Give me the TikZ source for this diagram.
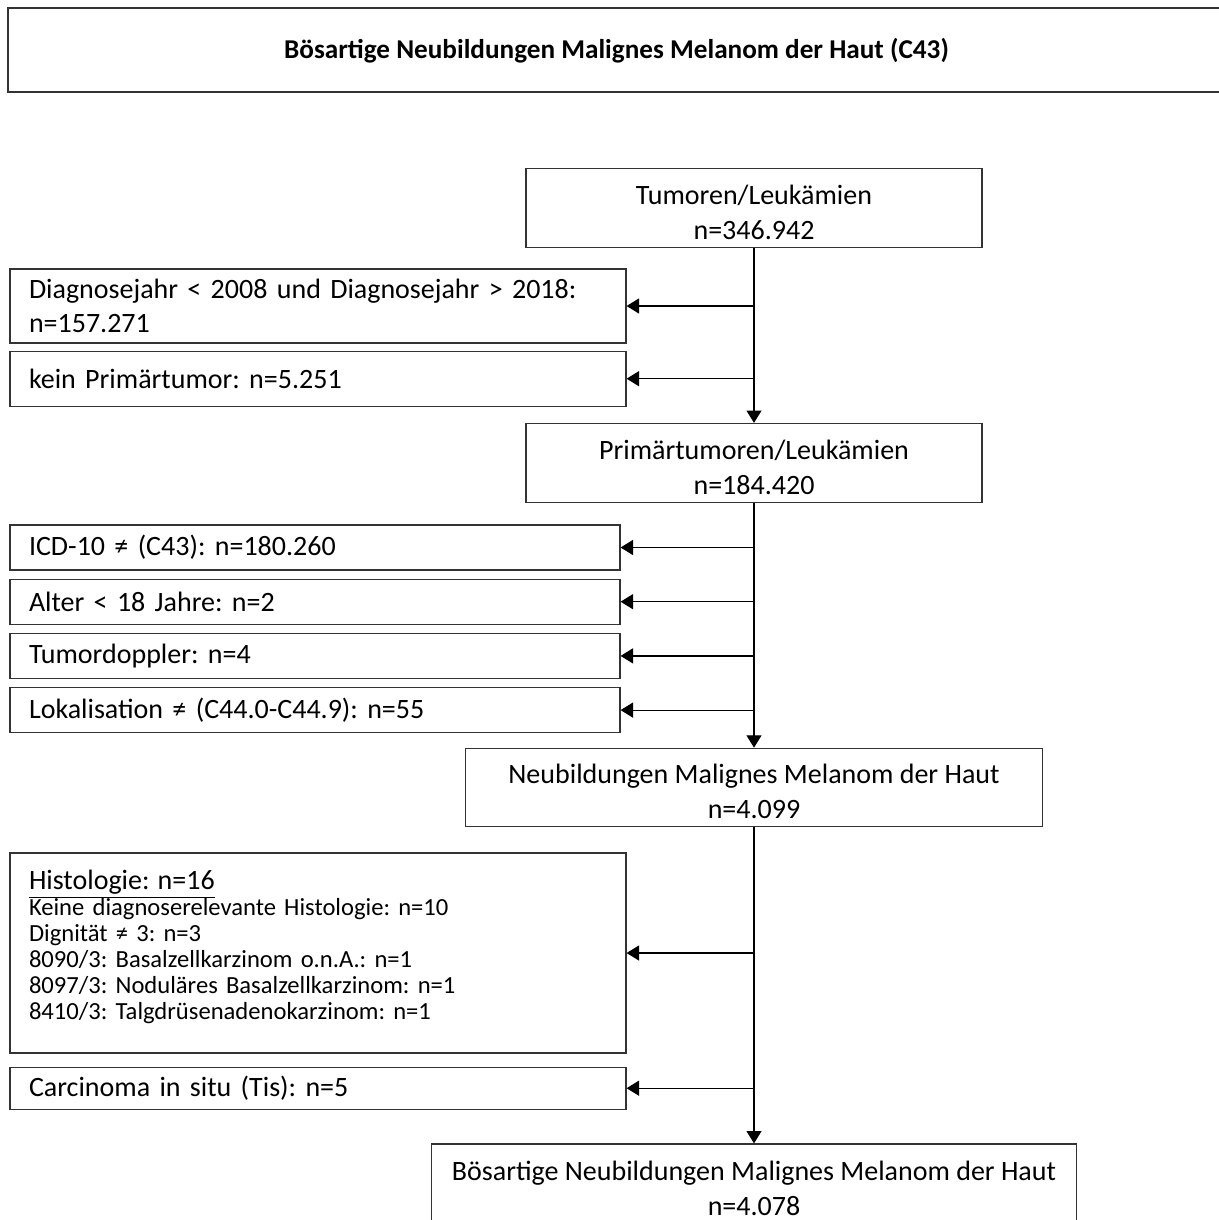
\documentclass[tikz,border=0pt]{standalone}
\usepackage{fontspec}
\setmainfont{Carlito}
\usetikzlibrary{arrows.meta,positioning}
\newcommand{\topgap}[1]{\rule{0pt}{#1}}

\begin{document}
\frenchspacing
\begin{tikzpicture}[
  x=0.5pt, y=-0.5pt,
  font=\fontsize{14pt}{17.5pt}\selectfont,
  box/.style={draw=black!80, line width=0.6pt, align=center, minimum height=39.5pt, inner sep=0pt},
  excl/.style={draw=black!80, line width=0.6pt, align=left, text width=289pt, inner xsep=9.5pt, inner ysep=0pt},
  arrow/.style={-{Triangle[length=6.2pt,width=7.5pt]}, line width=0.6pt}
]
\useasboundingbox (0,0) rectangle (1219,1220);
\node[box, minimum width=608.5pt, minimum height=42pt, font=\fontsize{13.6pt}{18pt}\selectfont\bfseries] (title) at (616.5,50) {\topgap{11pt}Bösartige Neubildungen Malignes Melanom der Haut (C43)};
\node[box, minimum width=228pt] (tum) at (754,208.3) {\topgap{14pt}Tumoren/Leukämien\\n=346.942};
\node[excl, minimum height=37pt, font=\fontsize{14pt}{17pt}\selectfont] (dia) at (318,306) {Diagnosejahr < 2008 und Diagnosejahr > 2018:\\n=157.271};
\node[excl, minimum height=27.5pt, below=3.5pt of dia] (kein) {kein Primärtumor: n=5.251};
\node[box, minimum width=228pt] (prim) at (754,463) {\topgap{14pt}Primärtumoren/Leukämien\\n=184.420};
\node[excl, text width=286pt, minimum height=22.5pt] (icd) at (315,547.5) {ICD-10 ≠ (C43): n=180.260};
\node[excl, text width=286pt, minimum height=22.5pt, below=4pt of icd] (alter) {Alter < 18 Jahre: n=2};
\node[excl, text width=286pt, minimum height=22.5pt, below=4pt of alter] (doppler) {Tumordoppler: n=4};
\node[excl, text width=286pt, minimum height=22.5pt, below=4pt of doppler] (lok) {Lokalisation ≠ (C44.0-C44.9): n=55};
\node[box, minimum width=288.5pt, minimum height=39.2pt] (neu) at (754,787.5) {\topgap{13.3pt}Neubildungen Malignes Melanom der Haut\\n=4.099};
\node[excl, minimum height=100pt, font=\fontsize{12.3pt}{13pt}\selectfont] (hist) at (318,953) {{\fontsize{14pt}{13pt}\selectfont\underline{Histologie: n=16}}\\
  Keine diagnoserelevante Histologie: n=10\\
  Dignität ≠ 3: n=3\\
  8090/3: Basalzellkarzinom o.n.A.: n=1\\
  8097/3: Noduläres Basalzellkarzinom: n=1\\
  8410/3: Talgdrüsenadenokarzinom: n=1\rule[-8pt]{0pt}{0pt}};
\node[excl, minimum height=21pt, below=6.5pt of hist] (cis) {Carcinoma in situ (Tis): n=5};
\node[box, minimum width=322.5pt, minimum height=44pt] (boes) at (754,1188) {Bösartige Neubildungen Malignes Melanom der Haut\\n=4.078};
\draw[arrow] (tum) -- (prim);
\draw[arrow] (prim) -- (neu);
\draw[arrow] (neu) -- (boes);
\draw[arrow] (tum.south |- dia.east) -- (dia.east);
\draw[arrow] (tum.south |- kein.east) -- (kein.east);
\draw[arrow] (prim.south |- icd.east) -- (icd.east);
\draw[arrow] (prim.south |- alter.east) -- (alter.east);
\draw[arrow] (prim.south |- doppler.east) -- (doppler.east);
\draw[arrow] (prim.south |- lok.east) -- (lok.east);
\draw[arrow] (neu.south |- hist.east) -- (hist.east);
\draw[arrow] (neu.south |- cis.east) -- (cis.east);
\end{tikzpicture}
\end{document}
